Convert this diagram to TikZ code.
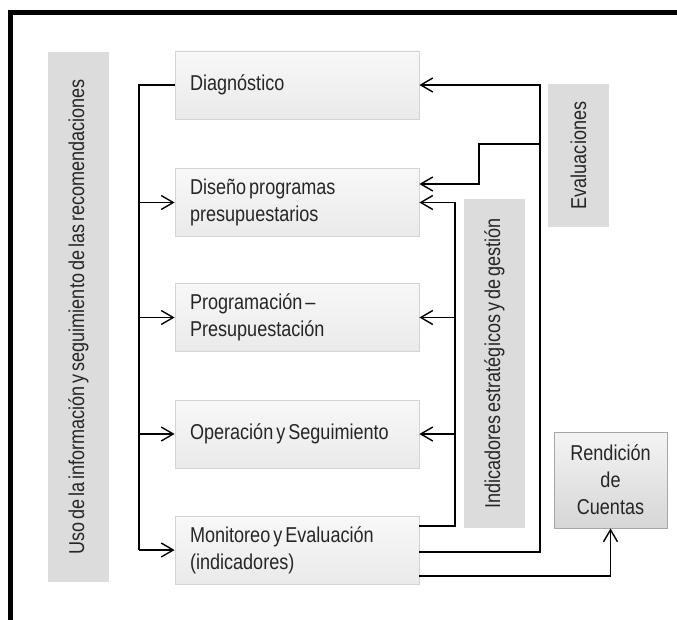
\documentclass[tikz,border=0pt]{standalone}
\usepackage{fontspec}
\setmainfont{Liberation Sans}[FakeStretch=0.84,WordSpace=0.6]
\usetikzlibrary{arrows.meta,calc}
\definecolor{txt}{HTML}{262626}
\definecolor{boxline}{HTML}{D4D4D4}
\definecolor{boxtop}{HTML}{F8F8F8}
\definecolor{boxbot}{HTML}{EAEAEA}
\definecolor{bandfill}{HTML}{DCDCDC}
\definecolor{rendline}{HTML}{A6A6A6}
\definecolor{rendtop}{HTML}{F4F4F4}
\definecolor{rendbot}{HTML}{D6D6D6}
\begin{document}
\begin{tikzpicture}[x=1pt,y=-1pt,
  every node/.style={text=txt,font=\fontsize{21.5}{27}\selectfont},
  stagebox/.style={draw=boxline,line width=0.8pt,top color=boxtop,bottom color=boxbot,
    minimum width=244pt,minimum height=68pt,inner sep=0pt,
    text width=214pt,align=flush left},
  band/.style={fill=bandfill,inner sep=0pt,rotate=90},
  rendbox/.style={draw=rendline,line width=0.8pt,top color=rendtop,bottom color=rendbot,
    minimum width=113pt,minimum height=96pt,inner sep=0pt,align=flush center},
  arr/.style={-{Straight Barb[length=12pt,width=14pt]}},
  link/.style={draw=black,line width=1.4pt}
]
\useasboundingbox (0,0) rectangle (677,620);

% outer frame
\draw[line width=4.5pt] (10.5,620) -- (10.5,12.5) -- (677,12.5);

% side bands
\node[band,minimum width=530pt,minimum height=61pt] (uso) at (78.5,317)
  {Uso de la información y seguimiento de las recomendaciones};
\node[band,minimum width=143pt,minimum height=61pt] (eval) at (578.5,155.5)
  {Evaluaciones};
\node[band,minimum width=329pt,minimum height=61pt] (ind) at (494.5,363.5)
  {Indicadores estratégicos y de gestión};

% process stages
\node[stagebox] (diag) at (297,85) {Diagnóstico};
\node[stagebox] (dis) at (297,202.5) {Diseño programas\\presupuestarios};
\node[stagebox] (prog) at (297,317.5) {Programación –\\Presupuestación};
\node[stagebox] (op) at (297,434) {Operación y Seguimiento};
\node[stagebox] (mon) at (297,550) {Monitoreo y Evaluación\\(indicadores)};

\node[rendbox] (rend) at (610.5,480) {Rendición\\de\\Cuentas};

% helper points of the connector buses
\coordinate (busL) at (139,0);
\coordinate (evx) at (540,85);
\coordinate (evb) at (540,144);
\coordinate (evk) at (479,144);
\coordinate (inx) at (455,0);

% left feedback bus
\draw[link] (diag.west) -- (diag.west -| busL) -- (mon.west -| busL);
\draw[link,arr] (dis.west -| busL) -- (dis.west);
\draw[link,arr] (prog.west -| busL) -- (prog.west);
\draw[link,arr] (op.west -| busL) -- (op.west);
\draw[link,arr] (mon.west -| busL) -- (mon.west);

% evaluations loop
\draw[link,arr] ($(mon.east)+(0,2)$) -| (evx) -- (diag.east);
\draw[link,arr] (evb) -- (evk) |- ($(dis.east)+(0,-18.5)$);

% indicators loop
\draw[link,arr] ($(mon.east)+(0,-24)$) -| (dis.east -| inx) -- (dis.east);
\draw[link,arr] (prog.east -| inx) -- (prog.east);
\draw[link,arr] (op.east -| inx) -- (op.east);

% accountability
\draw[link,arr] ($(mon.east)+(0,26)$) -| (rend.south);
\end{tikzpicture}
\end{document}
